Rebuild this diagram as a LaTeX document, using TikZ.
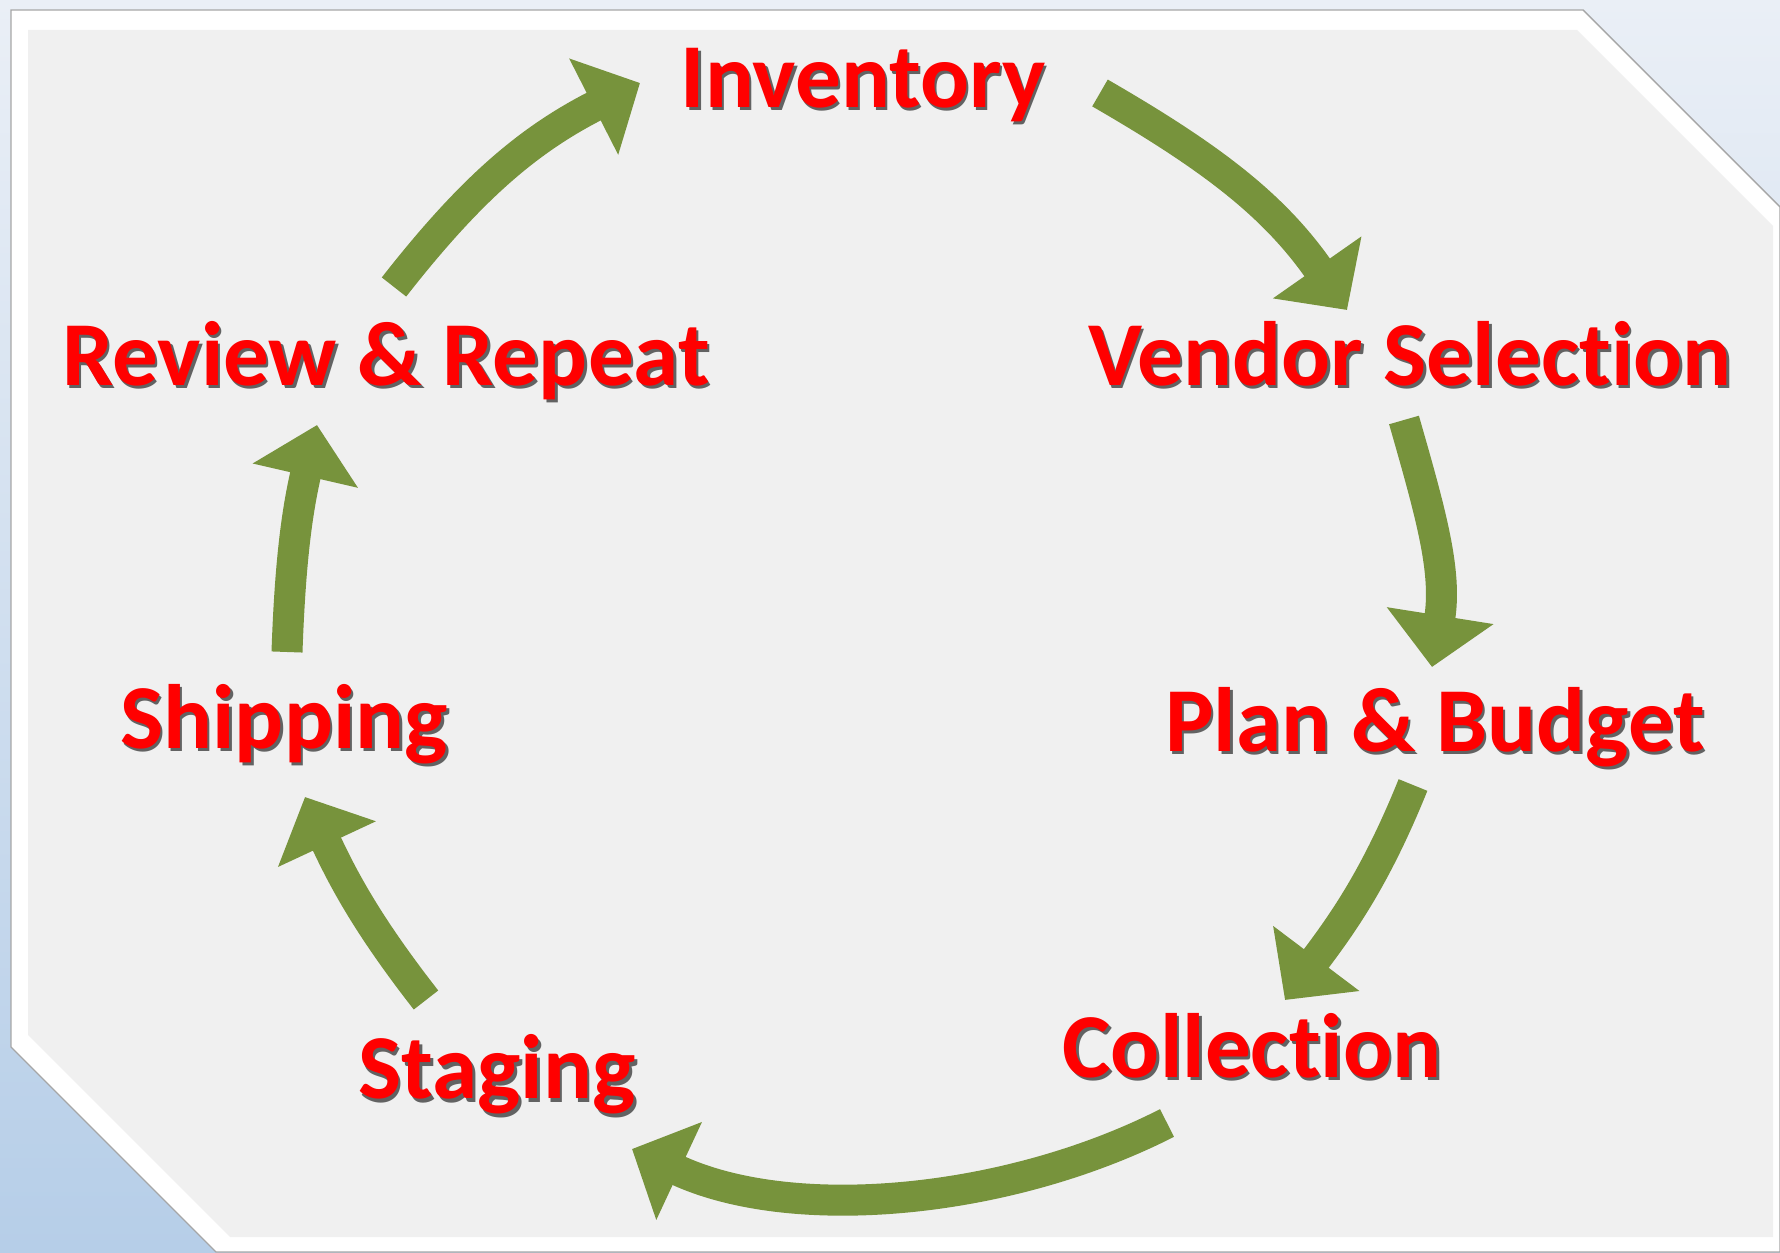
\documentclass[tikz,border=0pt]{standalone}
\usepackage{fontspec}
\setmainfont[Ligatures=CommonOff]{Carlito}
\usetikzlibrary{arrows.meta}

\definecolor{stagered}{RGB}{255,0,0}
\definecolor{arrowgreen}{RGB}{119,147,60}
\definecolor{panelgray}{RGB}{240,240,240}
\definecolor{skytop}{RGB}{234,239,246}
\definecolor{skybottom}{RGB}{182,206,232}

\begin{document}
\begin{tikzpicture}[
stage/.style={anchor=base, inner sep=0pt, text=stagered, font=\bfseries\fontsize{26}{30}\selectfont},
stageshadow/.style={stage, text=black!85, opacity=0.7, xshift=0.25mm, yshift=-0.3mm},
cyclearrow/.style={draw=arrowgreen, line width=3.1mm, -{Triangle[width=10.5mm,length=5.2mm]}},
]
\useasboundingbox (0,0) rectangle (17.8,12.52);

%Background
\shade[top color=skytop, bottom color=skybottom] (0,0) rectangle (17.8,12.52);
\filldraw[fill=white, draw=gray!70, thin] (0.11,12.42) -- (15.83,12.42) -- (17.8,10.45) -- (17.8,0) -- (2.16,0) -- (0.11,2.05) -- cycle;
\fill[panelgray] (0.28,12.22) -- (15.77,12.22) -- (17.73,10.26) -- (17.73,0.15) -- (2.30,0.15) -- (0.28,2.17) -- cycle;

%Nodes
\node[stageshadow] (inv-sh)  at (8.63,11.44) {Inventory};
\node[stage]       (inv)     at (8.63,11.44) {Inventory};
\node[stageshadow] (vendor-sh) at (14.10,8.66) {Vendor Selection};
\node[stage]       (vendor)    at (14.10,8.66) {Vendor Selection};
\node[stageshadow] (plan-sh) at (14.35,5.00) {Plan \& Budget};
\node[stage]       (plan)    at (14.35,5.00) {Plan \& Budget};
\node[stageshadow] (coll-sh) at (12.52,1.74) {Collection};
\node[stage]       (coll)    at (12.52,1.74) {Collection};
\node[stageshadow] (stag-sh) at (4.97,1.53) {Staging};
\node[stage]       (stag)    at (4.97,1.53) {Staging};
\node[stageshadow] (ship-sh) at (2.84,5.03) {Shipping};
\node[stage]       (ship)    at (2.84,5.03) {Shipping};
\node[stageshadow] (review-sh) at (3.86,8.66) {Review \& Repeat};
\node[stage]       (review)    at (3.86,8.66) {Review \& Repeat};

%Lines
\draw[cyclearrow] ([shift={(0.08,0.99)}]review.base) to[out=52,in=207] ([shift={(-2.23,0.25)}]inv.base);
\draw[cyclearrow] ([shift={(2.37,0.15)}]inv.base) to[out=-30,in=125] ([shift={(-0.63,0.76)}]vendor.base);
\draw[cyclearrow] ([shift={(-0.06,-0.34)}]vendor.base) to[out=-74,in=81] ([shift={(-0.03,0.85)}]plan.base);
\draw[cyclearrow] ([shift={(-0.22,-0.33)}]plan.base) to[out=-112,in=53] ([shift={(0.33,0.78)}]coll.base);
\draw[cyclearrow] ([shift={(-0.85,-0.45)}]coll.base) to[out=207,in=-25,looseness=0.85] ([shift={(1.35,-0.50)}]stag.base);
\draw[cyclearrow] ([shift={(-0.71,0.99)}]stag.base) to[out=128,in=-65] ([shift={(0.21,-0.48)}]ship.base);
\draw[cyclearrow] ([shift={(0.03,0.97)}]ship.base) to[out=88,in=-103] ([shift={(-0.69,-0.39)}]review.base);

\end{tikzpicture}
\end{document}
